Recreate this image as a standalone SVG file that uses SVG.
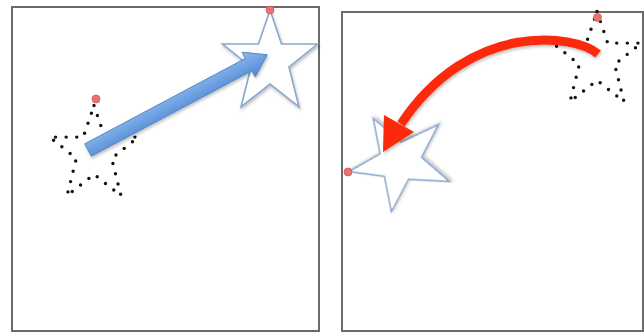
<svg xmlns="http://www.w3.org/2000/svg" width="644" height="333" viewBox="0 0 644 333">
<style>
.frame{fill:#fff;stroke:#6b6b6b;stroke-width:2}
.star{fill:#fff;stroke:#8aa6cc;stroke-width:1.6;stroke-linejoin:miter}
.dotted{fill:none;stroke:#111;stroke-width:3.7;stroke-linecap:round;stroke-dasharray:0 11.4}
.handle{fill:#e87272;stroke:#d05a5a;stroke-width:0.8}
</style>
<defs>
<path id="starShape" d="M0,-50 L11.5,-16 L47.5,-16 L19,7 L29,47 L0,24 L-29,47 L-19,7 L-47.5,-16 L-11.5,-16 Z"/>
<linearGradient id="blueGrad" x1="0" y1="0" x2="0" y2="1">
<stop offset="0" stop-color="#8dbbef"/>
<stop offset="1" stop-color="#4f88d2"/>
</linearGradient>
<filter id="shadow" x="-20%" y="-20%" width="140%" height="140%">
<feDropShadow dx="1" dy="2" stdDeviation="1.5" flood-color="#000" flood-opacity="0.25"/>
</filter>
</defs>
<rect width="644" height="333" fill="#fff"/>
<g id="left-panel">
<rect class="frame" x="12" y="7" width="307" height="324"/>
</g>
<g id="right-panel">
<rect class="frame" x="342" y="12" width="301" height="319"/>
</g>
<g id="left-dotted-star">
<use href="#starShape" class="dotted" transform="translate(94,152) scale(0.93)"/>
<circle class="handle" cx="96" cy="99" r="4"/>
</g>
<g id="left-solid-star">
<use href="#starShape" class="star" filter="url(#shadow)" transform="translate(270,60)"/>
<circle class="handle" cx="270" cy="10" r="4"/>
</g>
<g id="right-dotted-star">
<use href="#starShape" class="dotted" transform="translate(597,58) scale(0.93)"/>
<circle class="handle" cx="597.5" cy="17.5" r="4"/>
</g>
<g id="right-solid-star">
<use href="#starShape" class="star" filter="url(#shadow)" transform="translate(398,162) rotate(-101)"/>
<circle class="handle" cx="348" cy="172" r="4"/>
</g>
<g id="connectors">
<g id="blue-arrow" filter="url(#shadow)">
<polygon transform="translate(88,150) rotate(-28)" points="0,-7 182,-7 182,-14 203,0 182,14 182,7 0,7" fill="url(#blueGrad)" stroke="#4a7ec4" stroke-width="0.8"/>
</g>
<g id="red-arrow" filter="url(#shadow)">
<path d="M598,54 C575,34 470,20 401,124" fill="none" stroke="#fb2a08" stroke-width="9"/>
<polygon points="384,115 414,132 383,152" fill="#fb2a08"/>
</g>
</g>
</svg>
